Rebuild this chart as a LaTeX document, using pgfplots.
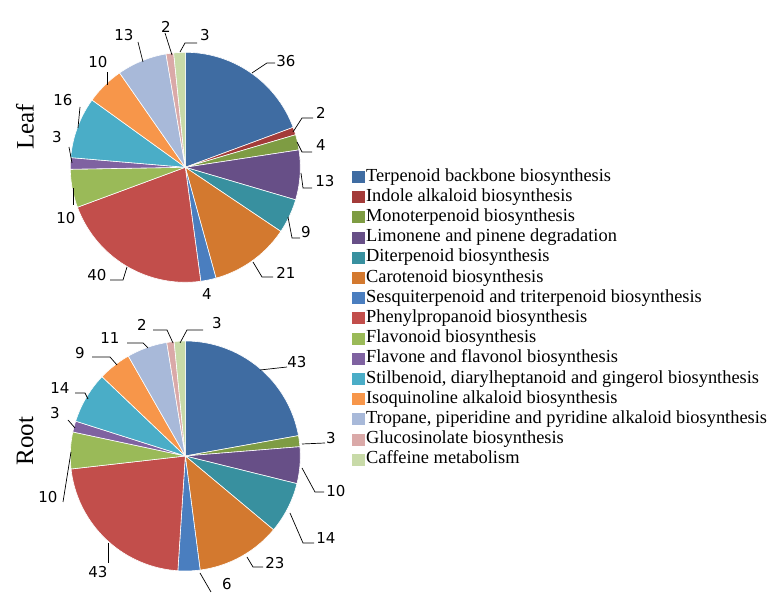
\documentclass[border=0pt]{standalone}
\usepackage{fontspec}
\setmainfont{Liberation Serif}
\newfontfamily\labfont{DejaVu Sans}
\usepackage{pgfplots}
\usepackage{pgfplotstable}
\pgfplotsset{compat=1.18}

\definecolor{pie0}{HTML}{3F6CA2}
\definecolor{pie1}{HTML}{A33B39}
\definecolor{pie2}{HTML}{7E9C43}
\definecolor{pie3}{HTML}{674F87}
\definecolor{pie4}{HTML}{38909F}
\definecolor{pie5}{HTML}{D3792F}
\definecolor{pie6}{HTML}{4A7EBF}
\definecolor{pie7}{HTML}{C24E4B}
\definecolor{pie8}{HTML}{9ABA58}
\definecolor{pie9}{HTML}{7F62A1}
\definecolor{pie10}{HTML}{4AADC7}
\definecolor{pie11}{HTML}{F7964A}
\definecolor{pie12}{HTML}{A8B9D9}
\definecolor{pie13}{HTML}{DAA9A8}
\definecolor{pie14}{HTML}{C8DAA8}

% number of genes per pathway
\pgfplotstableread{
id leaf root
0 36 43
1 2 0
2 4 3
3 13 10
4 9 14
5 21 23
6 4 6
7 40 43
8 10 10
9 3 3
10 16 14
11 10 9
12 13 11
13 2 2
14 3 3
}\piedata

\newcommand{\drawpie}[1]{%
  \pgfplotstablegetrowsof{\piedata}%
  \pgfmathtruncatemacro\pielast{\pgfplotsretval-1}%
  \def\pietotal{0}%
  \pgfplotsforeachungrouped \pieidx in {0,...,\pielast}{%
    \pgfplotstablegetelem{\pieidx}{#1}\of\piedata
    \pgfmathsetmacro\pietotal{\pietotal+\pgfplotsretval}%
  }%
  \def\piecum{0}%
  \pgfplotsforeachungrouped \pieidx in {0,...,\pielast}{%
    \pgfplotstablegetelem{\pieidx}{#1}\of\piedata
    \let\pieval\pgfplotsretval
    \pgfmathsetmacro\pieA{90-360*(\piecum/\pietotal)}%
    \pgfmathsetmacro\piecum{\piecum+\pieval}%
    \pgfmathsetmacro\pieB{90-360*(\piecum/\pietotal)}%
    \ifdim\pieval pt>0pt
      \edef\pieplot{\noexpand\addplot[fill=pie\pieidx, draw=white, line width=0.6pt, domain=\pieB:\pieA, samples=60, forget plot] ({cos(x)},{sin(x)}) -- (axis cs:0,0) -- cycle;}%
      \pieplot
    \fi
  }%
}

\newcommand{\legitem}[2]{%
  \addlegendimage{legend image code/.code={\fill[pie#1] (0pt,-5.5pt) rectangle (12pt,5.5pt);}}%
  \addlegendentry{#2}%
}

\pgfplotsset{
  pieaxis/.style={
    anchor=origin, width=230pt, height=230pt, scale only axis,
    xmin=-1, xmax=1, ymin=-1, ymax=1, hide axis, clip=false,
  }
}

\begin{document}
\begin{tikzpicture}[x=1pt,y=1pt]
\path[use as bounding box] (0,0) rectangle (769,594);

\begin{axis}[pieaxis, at={(185.3pt,426.7pt)},
  legend style={at={(1.2117,0.506)}, anchor=north west, draw=none, fill=none,
    font=\fontsize{18.4}{20}\selectfont, row sep=3.2pt, column sep=1.5pt,
    nodes={inner sep=0pt, text height=13pt, text depth=4pt}},
  legend cell align=left]
\drawpie{leaf}
\legitem{0}{Terpenoid backbone biosynthesis}
\legitem{1}{Indole alkaloid biosynthesis}
\legitem{2}{Monoterpenoid biosynthesis}
\legitem{3}{Limonene and pinene degradation}
\legitem{4}{Diterpenoid biosynthesis}
\legitem{5}{Carotenoid biosynthesis}
\legitem{6}{Sesquiterpenoid and triterpenoid biosynthesis}
\legitem{7}{Phenylpropanoid biosynthesis}
\legitem{8}{Flavonoid biosynthesis}
\legitem{9}{Flavone and flavonol biosynthesis}
\legitem{10}{Stilbenoid, diarylheptanoid and gingerol biosynthesis}
\legitem{11}{Isoquinoline alkaloid biosynthesis}
\legitem{12}{Tropane, piperidine and pyridine alkaloid biosynthesis}
\legitem{13}{Glucosinolate biosynthesis}
\legitem{14}{Caffeine metabolism}
\end{axis}

\begin{axis}[pieaxis, at={(185.3pt,138pt)}]
\drawpie{root}
\end{axis}

\begin{scope}[shift={(0,594)}, yscale=-1, line width=0.7pt]
\node[rotate=90, font=\fontsize{25}{25}\selectfont] at (25,127) {Leaf};
\node[rotate=90, font=\fontsize{25}{25}\selectfont] at (25,441) {Root};
\tikzset{lab/.style={font=\labfont\fontsize{15}{15}\selectfont, inner sep=0pt}}
% Leaf labels
\draw (252,73)--(267,63)--(275,63); \node[lab] at (286,61) {36};
\draw (293,132)--(302,118)--(313,118); \node[lab] at (321,113) {2};
\draw (297,142)--(302,152)--(312,152); \node[lab] at (321,145) {4};
\draw (301,173)--(303,188)--(312,188); \node[lab] at (325,181) {13};
\draw (288,217)--(292,238)--(300,238); \node[lab] at (306,232) {9};
\draw (253,262)--(262,277)--(273,277); \node[lab] at (286,273) {21};
\node[lab] at (207,294) {4};
\draw (127,267)--(123,280)--(110,280); \node[lab] at (97,275) {40};
\draw (73,188)--(73,205); \node[lab] at (66,218) {10};
\draw (72,163)--(69,147); \node[lab] at (57,137) {3};
\draw (78,128)--(80,107); \node[lab] at (63,100) {16};
\draw (107,85)--(107,72); \node[lab] at (98,62) {10};
\draw (143,62)--(138,42); \node[lab] at (124,35) {13};
\draw (172,55)--(165,33); \node[lab] at (166,27) {2};
\draw (180,52)--(185,43)--(197,43); \node[lab] at (205,35) {3};
% Root labels
\draw (260,370)--(287,367); \node[lab] at (297,362) {43};
\draw (302,444)--(325,443); \node[lab] at (331,438) {3};
\draw (302,468)--(315,492)--(324,492); \node[lab] at (336,491) {10};
\draw (290,513)--(303,543)--(314,543); \node[lab] at (326,538) {14};
\draw (247,557)--(253,567)--(263,567); \node[lab] at (275,563) {23};
\draw (200,573)--(211,592); \node[lab] at (227,584) {6};
\draw (108,543)--(108,563); \node[lab] at (98,572) {43};
\draw (71,452)--(63,502); \node[lab] at (48,497) {10};
\draw (75,428)--(68,420); \node[lab] at (55,413) {3};
\draw (88,399)--(85,393)--(75,393); \node[lab] at (60,388) {14};
\draw (117,365)--(110,357)--(92,357); \node[lab] at (80,353) {9};
\draw (148,348)--(143,343)--(127,343); \node[lab] at (110,338) {11};
\draw (173,343)--(167,330)--(153,330); \node[lab] at (142,325) {2};
\draw (180,343)--(187,330)--(203,330); \node[lab] at (217,323) {3};
\end{scope}
\end{tikzpicture}
\end{document}
